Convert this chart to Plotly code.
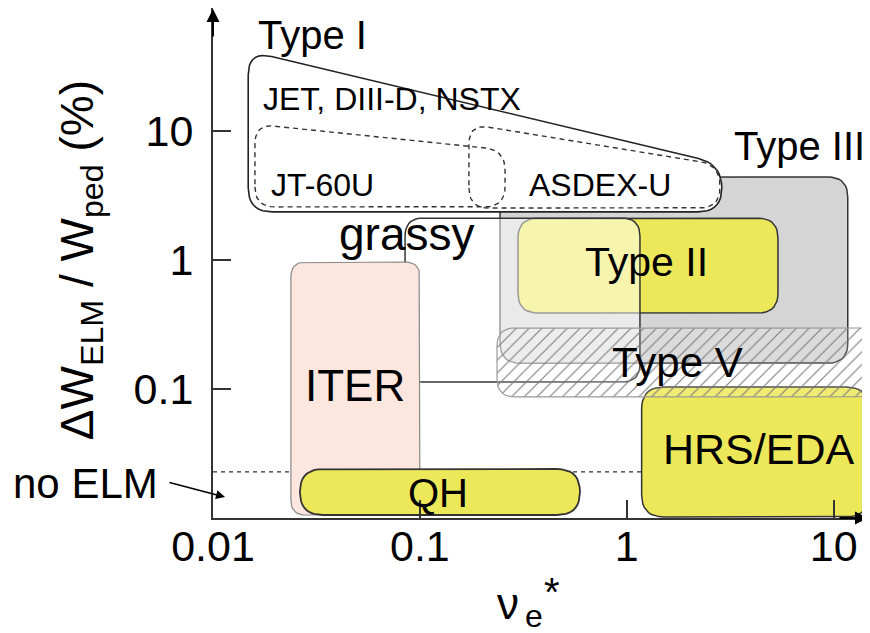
import numpy as np
import plotly.graph_objects as go

FONT = "Liberation Sans, Arial, sans-serif"

# ---------------- axes ----------------
x_tick_vals = [0.01, 0.1, 1, 10]
x_tick_text = ["0.01", "0.1", "1", "10"]
y_tick_vals = [0.1, 1, 10]
y_tick_text = ["0.1", "1", "10"]

# ---------------- regions (nu_e*, dW/Wped in %) ----------------
# slanted-top regions: x-range, bottom, top at left edge, top at right edge
type1_x = [0.0148, 2.88]
type1_y = [2.37, 42.0, 5.57]
jt60u_x = [0.01595, 0.258]
jt60u_y = [2.59, 11.4, 7.16]
asdex_x = [0.1726, 2.82]
asdex_y = [2.54, 11.4, 5.48]

# rectangular regions: x-range, y-range
type3_x = [0.244, 11.7]
type3_y = [0.159, 4.42]
type2_x = [0.298, 5.38]
type2_y = [0.389, 2.12]
grassy_x = [0.0848, 1.158]
grassy_y = [0.1135, 2.12]
type5_x = [0.236, 17.7]
type5_y = [0.0869, 0.298]
hrs_x = [1.18, 14.7]
hrs_y = [0.0102, 0.1037]
iter_x = [0.0238, 0.100]
iter_y = [0.01055, 0.968]
qh_x = [0.0263, 0.594]
qh_y = [0.01055, 0.024]

# no-ELM level
noelm_x = [0.01, 1.18]
noelm_y = [0.0228, 0.0228]

# labels
label_text = ["Type I", "JET, DIII-D, NSTX", "JT-60U", "ASDEX-U", "Type III",
              "grassy", "Type II", "Type V", "ITER", "QH", "HRS/EDA"]
label_x = [0.0301, 0.0733, 0.0337, 0.742, 6.87, 0.0857, 1.25, 1.75, 0.0485, 0.122, 4.35]
label_y = [55.8, 17.8, 3.83, 3.83, 7.69, 1.60, 0.968, 0.162, 0.106, 0.0156, 0.0343]
label_size = [40, 32, 32, 32, 40, 46, 41, 42, 44, 40, 43]

# ---------------- geometry helpers ----------------
XS, YS = 206.9, 128.9  # px per decade, used only for corner rounding


def rounded(xs, ys, r, n=10):
    P = np.column_stack([np.log10(xs) * XS, np.log10(ys) * YS])
    m = len(P)
    out = []
    for i in range(m):
        p, a, b = P[i], P[i - 1], P[(i + 1) % m]
        va, vb = a - p, b - p
        la, lb = np.linalg.norm(va), np.linalg.norm(vb)
        d = min(r, la / 2, lb / 2)
        pa, pb = p + va / la * d, p + vb / lb * d
        for t in np.linspace(0, 1, n):
            out.append((1 - t) ** 2 * pa + 2 * (1 - t) * t * p + t ** 2 * pb)
    out.append(out[0])
    out = np.array(out)
    return 10 ** (out[:, 0] / XS), 10 ** (out[:, 1] / YS)


def rect(xr, yr, r):
    return rounded([xr[0], xr[1], xr[1], xr[0]], [yr[0], yr[0], yr[1], yr[1]], r)


def slanted(xr, yv, r):
    return rounded([xr[0], xr[1], xr[1], xr[0]], [yv[0], yv[0], yv[2], yv[1]], r)


fig = go.Figure()


def add_poly(xy, fill, line_color, width, dash="solid", pattern=None):
    x, y = xy
    kw = {}
    if pattern is not None:
        kw["fillpattern"] = pattern
    fig.add_trace(go.Scatter(x=x, y=y, mode="lines", fill="toself", fillcolor=fill,
                             line=dict(color=line_color, width=width, dash=dash),
                             hoverinfo="skip", showlegend=False, **kw))


# no ELM dashed level
fig.add_trace(go.Scatter(x=noelm_x, y=noelm_y, mode="lines",
                         line=dict(color="#333", width=1.2, dash="4px,4px"),
                         hoverinfo="skip", showlegend=False))

yellow = "#ece85a"
add_poly(rect(type3_x, type3_y, 20), "#d5d5d5", "#333", 1.5)
add_poly(rect(type2_x, type2_y, 20), yellow, "#333", 1.5)
add_poly(rect(grassy_x, grassy_y, 18), "rgba(255,255,255,0.5)", "#333", 1.5)
add_poly(rect(hrs_x, hrs_y, 22), yellow, "#333", 1.5)
add_poly(rect(type5_x, type5_y, 18), "rgba(255,255,255,0.15)", "#999", 1.2,
         pattern=dict(shape="/", fgcolor="#7a7a7a", bgcolor="rgba(255,255,255,0.15)",
                      size=9, solidity=0.12, fillmode="replace"))
add_poly(slanted(type1_x, type1_y, 24), "white", "#222", 1.6)
add_poly(slanted(jt60u_x, jt60u_y, 20), "rgba(0,0,0,0)", "#333", 1.4, dash="5px,4px")
add_poly(slanted(asdex_x, asdex_y, 20), "rgba(0,0,0,0)", "#333", 1.4, dash="5px,4px")
add_poly(rect(iter_x, iter_y, 15), "#fde6de", "#888", 1.2)
add_poly(rect(qh_x, qh_y, 23), yellow, "#333", 1.8)

annotations = []
for t, x, y, s in zip(label_text, label_x, label_y, label_size):
    annotations.append(dict(text=t, x=np.log10(x), y=np.log10(y), xref="x", yref="y",
                            xanchor="center", yanchor="middle",
                            showarrow=False, font=dict(family=FONT, size=s, color="black")))

# axis arrowheads
annotations.append(dict(x=0, y=1, xref="paper", yref="paper", ax=0, ay=30, text="",
                        showarrow=True, arrowhead=2, arrowsize=1.3, arrowwidth=2,
                        arrowcolor="black"))
annotations.append(dict(x=1, y=0, xref="paper", yref="paper", ax=-30, ay=0, text="",
                        showarrow=True, arrowhead=2, arrowsize=1.3, arrowwidth=2,
                        arrowcolor="black"))
# no ELM label and arrow
annotations.append(dict(text="no ELM", x=-0.1954, y=0.0686, xref="paper", yref="paper",
                        xanchor="center", yanchor="middle",
                        showarrow=False, font=dict(family=FONT, size=42, color="black")))
annotations.append(dict(x=np.log10(0.01143), y=np.log10(0.01455), xref="x", yref="y",
                        ax=-57, ay=-15, text="", showarrow=True, arrowhead=2,
                        arrowsize=1.2, arrowwidth=1.5, arrowcolor="black", standoff=0))
# y axis title
annotations.append(dict(text="ΔW<sub>ELM</sub> / W<sub>ped</sub> (%)", textangle=-90,
                        x=-0.250, y=0.505, xref="paper", yref="paper", showarrow=False,
                        xanchor="left", yanchor="middle",
                        font=dict(family=FONT, size=46, color="black")))
# x axis title: nu, subscript e, star
xtitle_parts = ["ν", "e", "*"]
xtitle_px = [0.451, 0.490, 0.5176]
xtitle_py = [-0.168, -0.192, -0.145]
xtitle_size = [44, 32, 40]
for t, x, y, s in zip(xtitle_parts, xtitle_px, xtitle_py, xtitle_size):
    annotations.append(dict(text=t, x=x, y=y, xref="paper", yref="paper",
                            xanchor="center", yanchor="middle", showarrow=False,
                            font=dict(family=FONT, size=s, color="black")))

fig.update_layout(
    width=870, height=633,
    margin=dict(l=205, r=10, t=0, b=123, autoexpand=False),
    paper_bgcolor="white", plot_bgcolor="white",
    showlegend=False,
    annotations=annotations,
    xaxis=dict(type="log", range=[-2, 1.166], tickvals=x_tick_vals, ticktext=x_tick_text,
               showgrid=False, zeroline=False, showline=True, linecolor="#333", linewidth=2,
               ticks="inside", ticklen=18, tickwidth=1.5, tickcolor="#333", automargin=False,
               ticklabelstandoff=-11,
               tickfont=dict(family=FONT, size=43, color="black")),
    yaxis=dict(type="log", range=[-2, 1.9566], tickvals=y_tick_vals, ticktext=y_tick_text,
               showgrid=False, zeroline=False, showline=True, linecolor="#333", linewidth=2,
               ticks="inside", ticklen=18, tickwidth=1.5, tickcolor="#333", automargin=False,
               ticklabelstandoff=9,
               tickfont=dict(family=FONT, size=43, color="black")),
)

fig.write_html("out.html")
